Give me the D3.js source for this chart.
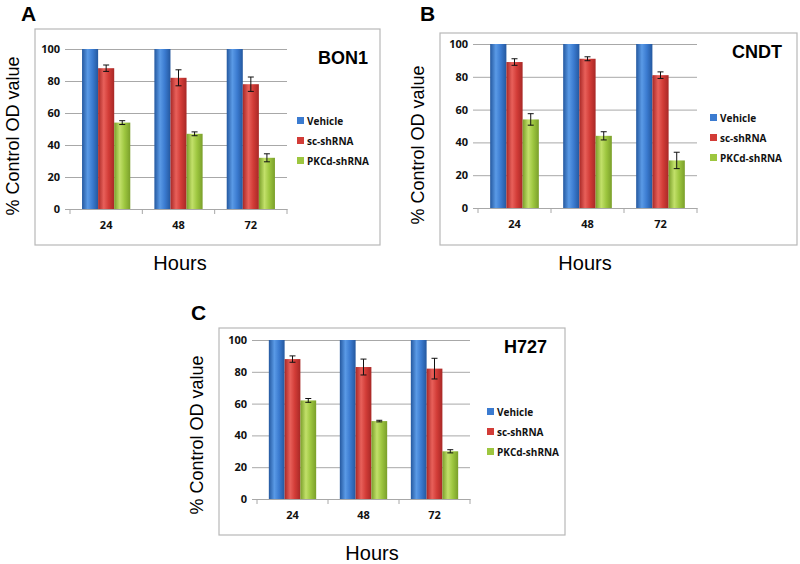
<!DOCTYPE html>
<html>
<head>
<meta charset="utf-8">
<script src="https://cdn.jsdelivr.net/npm/d3@7/dist/d3.min.js"></script>
<style>
  body { margin: 0; background: #fff; }
  svg { display: block; }
</style>
</head>
<body>
<svg id="chart" width="800" height="564"></svg>
<script>
// ── DATA ──
const hours = ['24', '48', '72'];
const series = ['Vehicle', 'sc-shRNA', 'PKCd-shRNA'];
const yTicks = [0, 20, 40, 60, 80, 100];

const bon1Vals = [[100, 100, 100], [88, 82, 78], [54, 47, 32]];
const bon1Err  = [[0, 0, 0], [2, 5, 4.5], [1.2, 1.2, 2.5]];
const cndtVals = [[100, 100, 100], [89, 91, 81], [54, 44, 29]];
const cndtErr  = [[0, 0, 0], [2, 1.2, 2], [3.5, 2.5, 5]];
const h727Vals = [[100, 100, 100], [88, 83, 82], [62, 49, 30]];
const h727Err  = [[0, 0, 0], [2, 5, 6.5], [1.2, 0.5, 1]];

const colors = [
  { edge: '#24589f', mid: '#5a9ae6', base: '#3b7bd0' },
  { edge: '#a82826', mid: '#e8605a', base: '#d23c37' },
  { edge: '#7a9f2a', mid: '#c2e06a', base: '#9dc63f' }
];

// panel layout (frame box, plot area, label positions)
const panels = [
  { letter: 'A', name: 'BON1', vals: bon1Vals, err: bon1Err,
    frame: [35, 29, 380, 245], plot: [70, 49, 287, 209],
    letterXY: [21, 21], nameXY: [368, 64], legXY: [297, 121],
    hoursXY: [180, 270], ylabXY: [19, 136] },
  { letter: 'B', name: 'CNDT', vals: cndtVals, err: cndtErr,
    frame: [440, 33, 797, 245], plot: [478, 44, 697, 208],
    letterXY: [420, 21], nameXY: [782, 58], legXY: [710, 118],
    hoursXY: [585, 270], ylabXY: [424, 145] },
  { letter: 'C', name: 'H727', vals: h727Vals, err: h727Err,
    frame: [219, 328, 565, 535], plot: [257, 340, 470, 499],
    letterXY: [191, 320], nameXY: [547, 353], legXY: [487, 412],
    hoursXY: [372, 560], ylabXY: [203, 435] }
];

const svg = d3.select('#chart');
const defs = svg.append('defs');

colors.forEach((c, i) => {
  const g = defs.append('linearGradient').attr('id', 'grad' + i)
    .attr('x1', '0%').attr('x2', '100%').attr('y1', '0%').attr('y2', '0%');
  g.append('stop').attr('offset', '0%').attr('stop-color', c.edge);
  g.append('stop').attr('offset', '35%').attr('stop-color', c.mid);
  g.append('stop').attr('offset', '65%').attr('stop-color', c.base);
  g.append('stop').attr('offset', '100%').attr('stop-color', c.edge);
});

panels.forEach(p => {
  const [fx0, fy0, fx1, fy1] = p.frame;
  const [px0, py0, px1, py1] = p.plot;
  const g = svg.append('g');

  // frame
  g.append('rect').attr('x', fx0).attr('y', fy0)
    .attr('width', fx1 - fx0).attr('height', fy1 - fy0)
    .attr('fill', '#fff').attr('stroke', '#b8b8b8').attr('stroke-width', 1.2);

  const x = d3.scaleBand().domain(hours).range([px0, px1]).paddingInner(0).paddingOuter(0);
  const xs = d3.scaleBand().domain(series).range([0, x.bandwidth()]).paddingInner(0).paddingOuter(0.75);
  const y = d3.scaleLinear().domain([0, 100]).range([py1, py0]);

  // gridlines + y labels
  g.append('g').attr('transform', `translate(${px0},0)`)
    .call(d3.axisLeft(y).tickValues(yTicks).tickSize(-(px1 - px0)).tickPadding(10).tickFormat(d3.format('d')))
    .call(a => a.select('.domain').remove())
    .call(a => a.selectAll('line').attr('stroke', '#a8a8a8').attr('x1', -5))
    .call(a => a.selectAll('text').attr('fill', '#111')
      .style('font-family', '"Open Sans", sans-serif').style('font-weight', '700').style('font-size', '11px'));

  // x axis
  g.append('g').attr('transform', `translate(0,${py1})`)
    .call(d3.axisBottom(x).tickSize(0).tickPadding(12))
    .call(a => a.select('.domain').attr('stroke', '#a8a8a8'))
    .call(a => a.selectAll('text').attr('fill', '#111')
      .style('font-family', '"Open Sans", sans-serif').style('font-weight', '700').style('font-size', '11px'));
  // group boundary ticks
  g.selectAll('.bt').data(hours.concat(['end'])).join('line')
    .attr('x1', (d, i) => px0 + i * x.bandwidth()).attr('x2', (d, i) => px0 + i * x.bandwidth())
    .attr('y1', py1).attr('y2', py1 + 5).attr('stroke', '#a8a8a8');

  // bars
  series.forEach((s, si) => {
    g.selectAll('.bar' + si).data(hours).join('rect')
      .attr('x', h => x(h) + xs(s))
      .attr('width', xs.bandwidth())
      .attr('y', (h, hi) => y(p.vals[si][hi]))
      .attr('height', (h, hi) => y(0) - y(p.vals[si][hi]))
      .attr('fill', `url(#grad${si})`);
    // error bars
    const eb = g.selectAll('.err' + si).data(hours.filter((h, hi) => p.err[si][hi] > 0)).join('g');
    eb.each(function (h) {
      const hi = hours.indexOf(h);
      const cx = x(h) + xs(s) + xs.bandwidth() / 2;
      const v = p.vals[si][hi], e = p.err[si][hi];
      const e1 = d3.select(this);
      e1.append('line').attr('x1', cx).attr('x2', cx).attr('y1', y(v + e)).attr('y2', y(v - e));
      e1.append('line').attr('x1', cx - 3).attr('x2', cx + 3).attr('y1', y(v + e)).attr('y2', y(v + e));
      e1.append('line').attr('x1', cx - 3).attr('x2', cx + 3).attr('y1', y(v - e)).attr('y2', y(v - e));
      e1.selectAll('line').attr('stroke', '#111').attr('stroke-width', 1);
    });
  });

  // legend
  series.forEach((s, si) => {
    const ly = p.legXY[1] + si * 20;
    g.append('rect').attr('x', p.legXY[0]).attr('y', ly - 4).attr('width', 7).attr('height', 7)
      .attr('fill', colors[si].base);
    g.append('text').attr('x', p.legXY[0] + 10).attr('y', ly).attr('dy', '0.35em')
      .attr('fill', '#111').style('font-family', '"Open Sans", sans-serif')
      .style('font-weight', '700').style('font-size', '10px').text(s);
  });

  // cell line name
  g.append('text').attr('x', p.nameXY[0]).attr('y', p.nameXY[1]).attr('text-anchor', 'end')
    .style('font-family', '"Liberation Sans", Arial, sans-serif').style('font-weight', '700')
    .style('font-size', '18px').text(p.name);

  // panel letter
  g.append('text').attr('x', p.letterXY[0]).attr('y', p.letterXY[1])
    .style('font-family', '"Liberation Sans", Arial, sans-serif').style('font-weight', '700')
    .style('font-size', '21px').text(p.letter);

  // axis titles
  g.append('text').attr('x', p.hoursXY[0]).attr('y', p.hoursXY[1]).attr('text-anchor', 'middle')
    .style('font-family', '"Liberation Sans", Arial, sans-serif').style('font-size', '20px').text('Hours');
  g.append('text').attr('transform', `translate(${p.ylabXY[0]},${p.ylabXY[1]}) rotate(-90)`)
    .attr('text-anchor', 'middle')
    .style('font-family', '"Liberation Sans", Arial, sans-serif').style('font-size', '18px')
    .text('% Control OD value');
});
</script>
</body>
</html>
